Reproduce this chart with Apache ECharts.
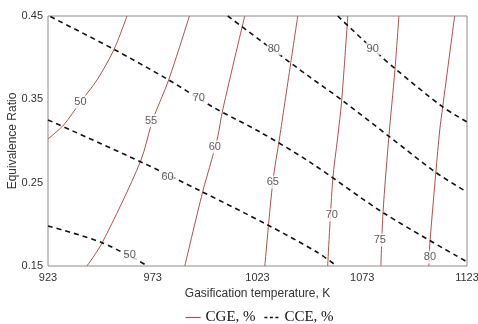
<!DOCTYPE html>
<html><head><meta charset="utf-8">
<script src="https://cdn.jsdelivr.net/npm/echarts@6/dist/echarts.min.js"></script>
<style>html,body{margin:0;padding:0;background:#fff}#c{width:478px;height:324px}</style>
</head><body><div id="c"></div>
<script>
// Tick labels
const xTicks = [923, 973, 1023, 1073, 1123];
const yTicks = [0.15, 0.25, 0.35, 0.45];

// CGE contours (temperature K, equivalence ratio)
const cge50 = [[960.7,0.45],[954.4,0.4093],[946.4,0.3733],[938.5,0.3469],[930.5,0.3193],[923,0.3025]];
const cge55 = [[990.5,0.45],[980.6,0.3733],[973.0,0.3253],[967.1,0.2752],[948.8,0.1776],[941.6,0.15]];
const cge60 = [[1016.9,0.45],[1006.4,0.3373],[1004.0,0.3049],[1001.1,0.2773],[996.8,0.2388],[988.3,0.15]];
const cge65 = [[1042.2,0.45],[1033.6,0.3049],[1030.3,0.2508],[1026.5,0.15]];
const cge70 = [[1066.1,0.45],[1063.2,0.3493],[1061.3,0.3049],[1058.9,0.2532],[1056.5,0.15]];
const cge75 = [[1090.5,0.45],[1088.6,0.3853],[1085.7,0.3049],[1082.9,0.2136],[1081.9,0.15]];
const cge80 = [[1117.1,0.45],[1111.4,0.3409],[1110.0,0.3133],[1108.1,0.2616],[1105.3,0.1776],[1104.8,0.15]];

// CCE contours
const cce50 = [[923,0.198],[948.8,0.1780],[970.6,0.15]];
const cce60 = [[923,0.3253],[967.1,0.2752],[996.8,0.2388],[1027.9,0.1992],[1051.3,0.1668],[1060.8,0.15]];
const cce70 = [[924.1,0.4493],[954.4,0.4101],[980.6,0.3733],[1001.6,0.3409],[1024.1,0.3109],[1047.9,0.2749],[1083.2,0.2136],[1123,0.155]];
const cce80 = [[1008.8,0.45],[1029.8,0.4105],[1047.9,0.3769],[1063.2,0.3493],[1086.1,0.3049],[1108.5,0.2616],[1123,0.2388]];
const cce90 = [[1061.3,0.45],[1078.0,0.4105],[1089.4,0.3853],[1111.4,0.3409],[1123,0.3229]];

// Contour labels [x, y, text]
const contourLabels = [
  [938.5,0.3469,'50'],[972.2,0.3245,'55'],[1002.6,0.2929,'60'],[1030.3,0.2508,'65'],
  [1058.5,0.2112,'70'],[1081.4,0.1812,'75'],[1105.3,0.1608,'80'],
  [962.0,0.1632,'50'],[980.1,0.2568,'60'],[995.0,0.3517,'70'],[1030.8,0.4105,'80'],[1078.0,0.4105,'90']
];

const cgeSets = [cge50,cge55,cge60,cge65,cge70,cge75,cge80];
const cceSets = [cce50,cce60,cce70,cce80,cce90];

const CGE_COLOR = '#b0504c';
const FONT = '"Liberation Sans", Arial, sans-serif';

const series = [];
cgeSets.forEach(d => series.push({
  name: 'CGE, %', type: 'line', data: d, symbol: 'none', smooth: 0.3,
  lineStyle: {color: CGE_COLOR, width: 1}, itemStyle: {color: CGE_COLOR}, z: 2, silent: true
}));
cceSets.forEach(d => series.push({
  name: 'CCE, %', type: 'line', data: d, symbol: 'none', smooth: 0.3,
  lineStyle: {color: '#111', width: 1.6, type: [5, 4]}, itemStyle: {color: '#111'}, z: 3, silent: true
}));
series.push({
  name: 'labels', type: 'scatter', data: contourLabels, symbolSize: 1,
  itemStyle: {color: 'rgba(0,0,0,0)'}, z: 5, silent: true,
  label: {show: true, position: 'inside', formatter: p => p.value[2],
    color: '#333', fontFamily: FONT, fontSize: 11, backgroundColor: '#fff', padding: [1, 1]}
});

const chart = echarts.init(document.getElementById('c'), null, {renderer: 'canvas'});
chart.setOption({
  animation: false,
  backgroundColor: '#fff',
  grid: {left: 48, right: 11, top: 16, bottom: 58, containLabel: false, outerBoundsMode: 'none', show: true,
    borderColor: '#8c8c8c', borderWidth: 1, backgroundColor: 'transparent'},
  legend: {
    data: [
      {name: 'CGE, %', lineStyle: {width: 1.2}},
      {name: 'CCE, %', lineStyle: {width: 1.6, type: [3, 2.5]}}
    ],
    top: 305, left: 180, itemWidth: 15, itemHeight: 10, itemGap: 8,
    itemStyle: {opacity: 0},
    textStyle: {fontFamily: '"Liberation Serif", "Times New Roman", serif', fontSize: 15, color: '#111'}
  },
  xAxis: {
    type: 'value', min: 923, max: 1123,
    name: 'Gasification temperature, K', nameLocation: 'middle', nameGap: 21,
    nameTextStyle: {fontFamily: FONT, fontSize: 12, color: '#333'},
    axisLine: {show: false}, axisTick: {show: false}, splitLine: {show: false},
    axisLabel: {customValues: xTicks, formatter: v => String(Math.round(v)),
      fontFamily: FONT, fontSize: 11, color: '#333', margin: 6}
  },
  yAxis: {
    type: 'value', min: 0.15, max: 0.45,
    name: 'Equivalence Ratio', nameLocation: 'middle', nameGap: 29, nameMoveOverlap: false,
    nameTextStyle: {fontFamily: FONT, fontSize: 12, color: '#333'},
    axisLine: {show: false}, axisTick: {show: false}, splitLine: {show: false},
    axisLabel: {customValues: yTicks, formatter: v => Number(v).toFixed(2),
      fontFamily: FONT, fontSize: 11, color: '#333', margin: 5}
  },
  series: series
});
</script></body></html>
